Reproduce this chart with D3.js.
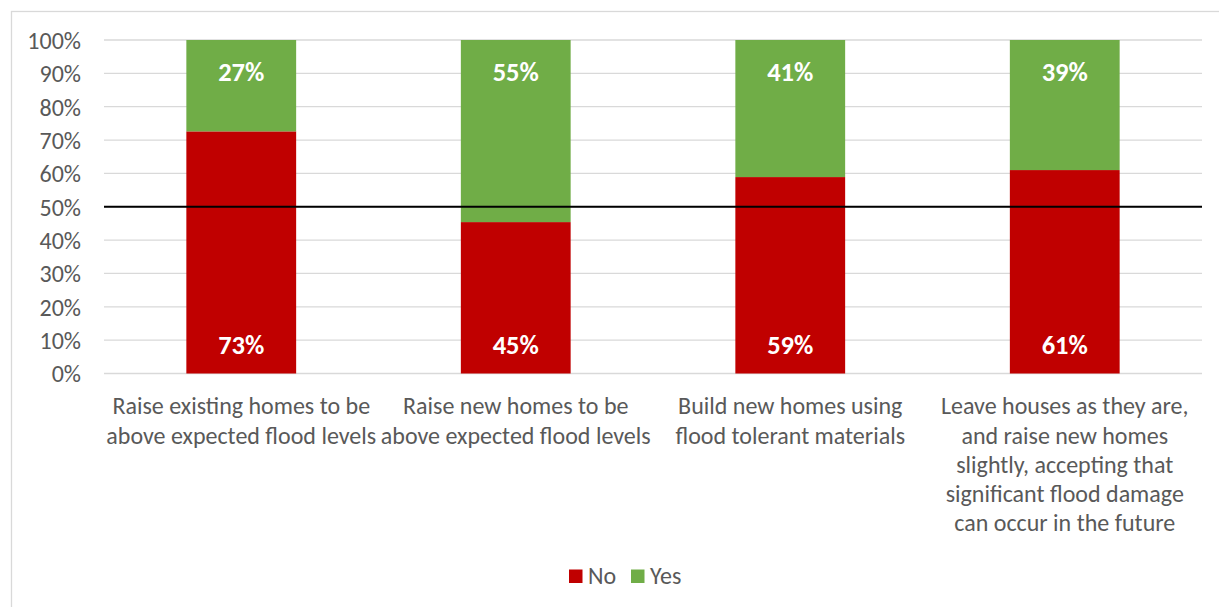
<!DOCTYPE html>
<html>
<head>
<meta charset="utf-8">
<script src="https://cdn.jsdelivr.net/npm/d3@7"></script>
<style>
  html, body { margin: 0; padding: 0; background: #fff; }
  svg { display: block; }
  text { font-family: Carlito, Calibri, Lato, "Open Sans", sans-serif; }
</style>
</head>
<body>
<svg id="chart" width="1219" height="607"></svg>
<script>
// ---- data ----
const categories = [
  "Raise existing homes to be above expected flood levels",
  "Raise new homes to be above expected flood levels",
  "Build new homes using flood tolerant materials",
  "Leave houses as they are, and raise new homes slightly, accepting that significant flood damage can occur in the future"
];
const categoryLines = [
  ["Raise existing homes to be", "above expected flood levels"],
  ["Raise new homes to be", "above expected flood levels"],
  ["Build new homes using", "flood tolerant materials"],
  ["Leave houses as they are,", "and raise new homes", "slightly, accepting that", "significant flood damage", "can occur in the future"]
];
const noValues  = [72.6, 45.4, 58.9, 61.0];
const yesValues = [27.4, 54.6, 41.1, 39.0];
const seriesNames = ["No", "Yes"];
const yTicks = [0, 10, 20, 30, 40, 50, 60, 70, 80, 90, 100];
const referenceValue = 50;

// ---- layout ----
const colors = { No: "#C00000", Yes: "#70AD47" };
const svg = d3.select("#chart");
const plot = { left: 104, right: 1202, top: 40, bottom: 373.5 };

// chart border
svg.append("rect")
  .attr("x", 11.5).attr("y", 11.5)
  .attr("width", 1240).attr("height", 640)
  .attr("fill", "none").attr("stroke", "#d9d9d9").attr("stroke-width", 1.3);

const x = d3.scaleBand()
  .domain(categories)
  .range([plot.left, plot.right])
  .paddingInner(0.6)
  .paddingOuter(0.3);

const xCat = d3.scaleBand().domain(categories).range([plot.left, plot.right]).padding(0);

const y = d3.scaleLinear().domain([0, 100]).range([plot.bottom, plot.top]);

// gridlines
svg.append("g")
  .selectAll("line")
  .data(yTicks)
  .join("line")
  .attr("x1", plot.left).attr("x2", plot.right)
  .attr("y1", d => y(d)).attr("y2", d => y(d))
  .attr("stroke", "#d9d9d9").attr("stroke-width", 1.3);

// y axis labels
const yAxis = d3.axisLeft(y).tickValues(yTicks).tickFormat(d => d + "%").tickSize(0).tickPadding(0);
const yg = svg.append("g").attr("transform", `translate(${81},0)`).call(yAxis);
yg.select(".domain").remove();
yg.selectAll("text")
  .attr("fill", "#595959")
  .style("font-size", "24px")
  .attr("dy", "0.35em");

// stacked data
const rows = categories.map((c, i) => ({ cat: c, No: noValues[i], Yes: yesValues[i] }));
const stack = d3.stack().keys(seriesNames);
const stacked = stack(rows);

const barG = svg.append("g");
stacked.forEach(layer => {
  barG.append("g")
    .selectAll("rect")
    .data(layer)
    .join("rect")
    .attr("x", d => x(d.data.cat))
    .attr("width", x.bandwidth())
    .attr("y", d => y(d[1]))
    .attr("height", d => y(d[0]) - y(d[1]))
    .attr("fill", colors[layer.key]);
});

// reference line at 50%
svg.append("line")
  .attr("x1", plot.left).attr("x2", plot.right)
  .attr("y1", y(referenceValue)).attr("y2", y(referenceValue))
  .attr("stroke", "#000").attr("stroke-width", 2);

// value labels
const fmt = v => Math.round(v) + "%";
const labG = svg.append("g");
labG.selectAll("text.no")
  .data(rows)
  .join("text")
  .attr("class", "no")
  .attr("x", d => x(d.cat) + x.bandwidth() / 2)
  .attr("y", y(0) - 28.5)
  .attr("dy", "0.35em")
  .attr("text-anchor", "middle")
  .attr("fill", "#fff")
  .style("font-size", "26.5px").style("font-weight", "bold")
  .text(d => fmt(d.No));
labG.selectAll("text.yes")
  .data(rows)
  .join("text")
  .attr("class", "yes")
  .attr("x", d => x(d.cat) + x.bandwidth() / 2)
  .attr("y", d => y(d.No + d.Yes) + 31.5)
  .attr("dy", "0.35em")
  .attr("text-anchor", "middle")
  .attr("fill", "#fff")
  .style("font-size", "26.5px").style("font-weight", "bold")
  .text(d => fmt(d.Yes));

// category labels
const catG = svg.append("g");
categories.forEach((c, i) => {
  const cx = xCat(c) + xCat.bandwidth() / 2;
  const t = catG.append("text")
    .attr("text-anchor", "middle")
    .attr("fill", "#595959")
    .style("font-size", "24px");
  categoryLines[i].forEach((line, j) => {
    t.append("tspan")
      .attr("x", cx)
      .attr("y", 406 + j * 29.2)
      .attr("dy", "0.35em")
      .text(line);
  });
});

// legend
const legend = svg.append("g");
const legendItems = [
  { key: "No", sx: 569, tx: 588 },
  { key: "Yes", sx: 631, tx: 650 }
];
legendItems.forEach(it => {
  legend.append("rect")
    .attr("x", it.sx).attr("y", 569.5)
    .attr("width", 13.5).attr("height", 13.5)
    .attr("fill", colors[it.key]);
  legend.append("text")
    .attr("x", it.tx).attr("y", 576)
    .attr("dy", "0.35em")
    .attr("fill", "#595959")
    .style("font-size", "24px")
    .text(it.key);
});
</script>
</body>
</html>
